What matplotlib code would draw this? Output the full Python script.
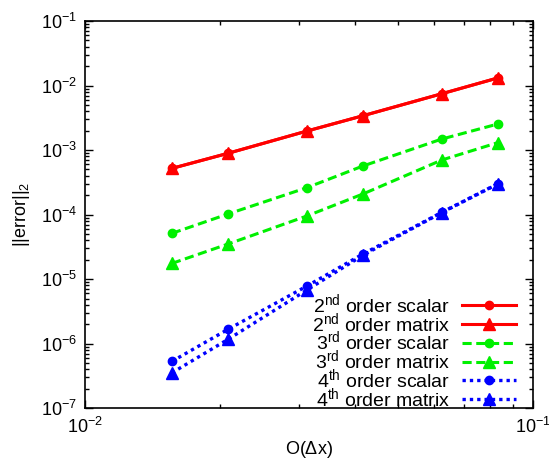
import numpy as np
import matplotlib.pyplot as plt
from matplotlib.ticker import LogLocator, FixedLocator, FixedFormatter, NullFormatter

plt.rcParams['font.family'] = ['Liberation Sans', 'DejaVu Sans']
plt.rcParams['mathtext.fontset'] = 'custom'
plt.rcParams['mathtext.rm'] = 'Liberation Sans'
plt.rcParams['mathtext.it'] = 'Liberation Sans'

# grid spacing (dx)
dx = [1/64, 1/48, 1/32, 1/24, 1/16, 1/12]

# error norms
err_2nd_scalar = [5.2e-4, 8.9e-4, 1.97e-3, 3.40e-3, 7.46e-3, 1.31e-2]
err_2nd_matrix = [5.2e-4, 8.9e-4, 1.97e-3, 3.40e-3, 7.46e-3, 1.31e-2]
err_3rd_scalar = [5.12e-5, 1.02e-4, 2.61e-4, 5.65e-4, 1.48e-3, 2.53e-3]
err_3rd_matrix = [1.75e-5, 3.49e-5, 9.5e-5, 2.08e-4, 7.0e-4, 1.30e-3]
err_4th_scalar = [5.3e-7, 1.66e-6, 7.78e-6, 2.44e-5, 1.08e-4, 3.0e-4]
err_4th_matrix = [3.52e-7, 1.16e-6, 6.75e-6, 2.33e-5, 1.07e-4, 2.97e-4]

labels = ['2$^{nd}$ order scalar', '2$^{nd}$ order matrix',
          '3$^{rd}$ order scalar', '3$^{rd}$ order matrix',
          '4$^{th}$ order scalar', '4$^{th}$ order matrix']

fig = plt.figure(figsize=(5.49, 4.68), dpi=100)
ax = fig.add_axes([0.155, 0.128, 0.816, 0.827])

red, green, blue = '#ff0000', '#00f000', '#0000ff'
ax.plot(dx, err_2nd_scalar, color=red, ls='-', lw=2.2, marker='o', ms=6, label=labels[0])
ax.plot(dx, err_2nd_matrix, color=red, ls='-', lw=2.2, marker='^', ms=8, label=labels[1])
ax.plot(dx, err_3rd_scalar, color=green, ls=(0, (3, 1.5)), lw=2.2, marker='o', ms=6, label=labels[2])
ax.plot(dx, err_3rd_matrix, color=green, ls=(0, (3, 1.5)), lw=2.2, marker='^', ms=8, label=labels[3])
ax.plot(dx, err_4th_scalar, color=blue, ls=(0, (1, 1.2)), lw=2.4, marker='o', ms=6, label=labels[4])
ax.plot(dx, err_4th_matrix, color=blue, ls=(0, (1, 1.2)), lw=2.4, marker='^', ms=8, label=labels[5])

ax.set_xscale('log')
ax.set_yscale('log')
ax.set_xlim(1e-2, 1e-1)
ax.set_ylim(1e-7, 1e-1)

xt = [1e-2, 1e-1]
ax.xaxis.set_major_locator(FixedLocator(xt))
ax.xaxis.set_major_formatter(FixedFormatter([r'$\mathregular{10^{-2}}$', r'$\mathregular{10^{-1}}$']))
yt = [1e-7, 1e-6, 1e-5, 1e-4, 1e-3, 1e-2, 1e-1]
ax.yaxis.set_major_locator(FixedLocator(yt))
ax.yaxis.set_major_formatter(FixedFormatter([r'$\mathregular{10^{%d}}$' % e for e in range(-7, 0)]))
ax.xaxis.set_minor_locator(LogLocator(base=10, subs=np.arange(2, 10)))
ax.yaxis.set_minor_locator(LogLocator(base=10, subs=np.arange(2, 10)))
ax.xaxis.set_minor_formatter(NullFormatter())
ax.yaxis.set_minor_formatter(NullFormatter())

ax.tick_params(which='both', direction='in', top=True, right=True, labelsize=13, width=1)
ax.tick_params(which='major', length=6, pad=6)
ax.tick_params(which='minor', length=3)
for s in ax.spines.values():
    s.set_linewidth(1.2)

ax.set_xlabel(r'O($\Delta$x)', fontsize=13, labelpad=2)
ax.set_ylabel(r'||error||$_2$', fontsize=13, labelpad=6)

leg = ax.legend(loc='lower right', bbox_to_anchor=(0.962, -0.005), frameon=False,
                markerfirst=False, fontsize=14, handlelength=2.8, labelspacing=-0.26,
                borderaxespad=0, borderpad=0, handletextpad=0.6)
for t in leg.get_texts():
    t.set_ha('right')
leg._legend_box.align = 'right'

fig.savefig('out.png', dpi=100)
